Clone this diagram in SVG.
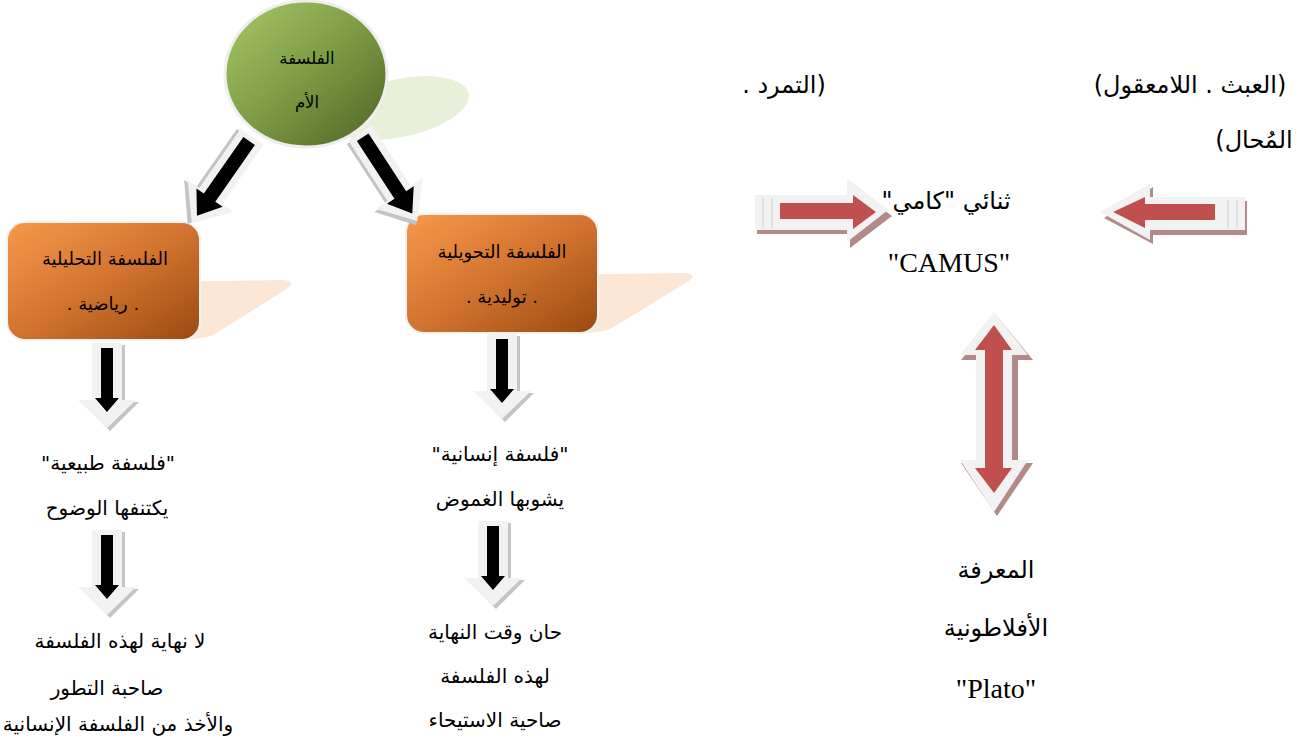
<svg xmlns="http://www.w3.org/2000/svg" width="1306" height="743" viewBox="0 0 1306 743">
  <style>
    .ar { font-family: "DejaVu Sans", "Liberation Sans", "Noto Sans", sans-serif; font-size: 20px; fill: #000; direction: rtl; unicode-bidi: embed; text-anchor: middle; }
    .box { font-size: 18px; }
    .root { font-size: 16.5px; }
    .big { font-size: 24px; }
    .lat { font-family: "Liberation Serif", "DejaVu Serif", serif; font-size: 28px; fill: #000; text-anchor: middle; }
    .halo { fill: #f2f2f2; }
    .haloShade { fill: #c4c4c4; }
    .blk { fill: #000; }
    .red { fill: #c0504d; }
    .redShade { fill: #b38a8a; }
  </style>
  <defs>
    <linearGradient id="gGreen" x1="0" y1="0" x2="1" y2="1">
      <stop offset="0" stop-color="#a9c96a"/>
      <stop offset="0.5" stop-color="#7d9b43"/>
      <stop offset="1" stop-color="#4c6326"/>
    </linearGradient>
    <linearGradient id="gOrange" x1="0" y1="0" x2="1" y2="1">
      <stop offset="0" stop-color="#f7994a"/>
      <stop offset="0.5" stop-color="#d27430"/>
      <stop offset="1" stop-color="#9a4a10"/>
    </linearGradient>
    <!-- hollow pointer pointing down, origin at top centre of the shaft -->
    <g id="downArrow">
      <polygon class="haloShade" points="-12,2 18,2 18,59 32,59 3,88 -26,59 -12,59"/>
      <polygon class="halo" points="-15,0 15,0 15,57 29,57 0,85 -29,57 -15,57"/>
      <polygon class="blk" points="-6,5 6,5 6,55 12,55 0,69 -12,55 -6,55"/>
    </g>
    <!-- same pointer laid along +x, for the slanted links -->
    <g id="diagArrow">
      <polygon class="haloShade" points="2,-11 74,-11 74,-25 108,3 74,31 74,17 2,17"/>
      <polygon class="halo" points="0,-14 72,-14 72,-28 105,0 72,28 72,14 0,14"/>
      <polygon class="blk" points="5,-7 74,-7 74,-16 96,0 74,16 74,7 5,7"/>
    </g>
  </defs>

  <rect width="1306" height="743" fill="#ffffff"/>

  <!-- root node -->
  <g id="node-root">
    <ellipse cx="400" cy="108" rx="70" ry="29" transform="rotate(-12 400 108)" fill="#e6eed6" opacity="0.9"/>
    <ellipse cx="306" cy="74" rx="81" ry="73" fill="url(#gGreen)" stroke="#eeeeee" stroke-width="3"/>
    <text class="ar root" x="307" y="64">الفلسفة</text>
    <text class="ar root" x="307" y="108">الأم</text>
  </g>

  <!-- analytic branch -->
  <g id="node-analytic">
    <path d="M150,282 L283,280 Q296,281 288,288 L215,334 Q205,340 160,340 Z" fill="#fce6d6"/>
    <rect x="7" y="222" width="193" height="118" rx="18" fill="url(#gOrange)" stroke="#f2f2f2" stroke-width="2"/>
    <text class="ar box" x="105" y="265">الفلسفة التحليلية</text>
    <text class="ar box" x="103" y="310">. رياضية .</text>
  </g>

  <!-- generative branch -->
  <g id="node-generative">
    <path d="M550,275 L684,273 Q698,274 689,281 L612,328 Q600,334 560,334 Z" fill="#fce6d6"/>
    <rect x="406" y="214" width="192" height="119" rx="18" fill="url(#gOrange)" stroke="#f2f2f2" stroke-width="2"/>
    <text class="ar box" x="502" y="258">الفلسفة التحويلية</text>
    <text class="ar box" x="502" y="303">. توليدية .</text>
  </g>

  <g id="node-natural">
    <text class="ar" x="108" y="470">"فلسفة طبيعية"</text>
    <text class="ar" x="107" y="515">يكتنفها الوضوح</text>
  </g>

  <g id="node-natural-end">
    <text class="ar" x="120" y="648">لا نهاية لهذه الفلسفة</text>
    <text class="ar" x="107" y="695">صاحبة التطور</text>
    <text class="ar" x="118" y="731">والأخذ من الفلسفة الإنسانية</text>
  </g>

  <g id="node-human">
    <text class="ar" x="500" y="461">"فلسفة إنسانية"</text>
    <text class="ar" x="500" y="506">يشوبها الغموض</text>
  </g>

  <g id="node-human-end">
    <text class="ar" x="495" y="639">حان وقت النهاية</text>
    <text class="ar" x="495" y="683">لهذه الفلسفة</text>
    <text class="ar" x="495" y="727">صاحية الاستيحاء</text>
  </g>

  <g id="node-absurd">
    <text class="ar big" x="1190" y="93">(العبث . اللامعقول)</text>
    <text class="ar big" x="784" y="93">(التمرد .</text>
    <text class="ar big" x="1254" y="148">المُحال)</text>
  </g>

  <g id="node-camus">
    <text class="ar big" x="946" y="209">ثنائي "كامي"</text>
    <text class="lat" x="949" y="272">"CAMUS"</text>
  </g>

  <g id="node-plato">
    <text class="ar big" x="996" y="578">المعرفة</text>
    <text class="ar big" x="996" y="636">الأفلاطونية</text>
    <text class="lat" x="996" y="698">"Plato"</text>
  </g>

  <!-- connectors -->
  <g id="connectors">
    <use href="#diagArrow" transform="translate(252,137) rotate(125)"/>
    <use href="#diagArrow" transform="translate(360,133) rotate(57)"/>
    <use href="#downArrow" transform="translate(107,343)"/>
    <use href="#downArrow" transform="translate(107,530)"/>
    <use href="#downArrow" transform="translate(502,334)"/>
    <use href="#downArrow" transform="translate(493,521)"/>

    <!-- red pointer into the Camus pair, from the left -->
    <g>
      <polygon class="redShade" points="757,200 850,200 850,184 892,216 850,248 850,234 757,234"/>
      <polygon class="halo" points="755,195 847,195 847,178 888,210 847,242 847,230 755,230"/>
      <line x1="763" y1="198" x2="763" y2="228" stroke="#e0e0e0" stroke-width="2"/>
      <line x1="772" y1="198" x2="772" y2="228" stroke="#e0e0e0" stroke-width="2"/>
      <polygon class="red" points="780,203 853,203 853,195 876,212 853,229 853,219 780,219"/>
    </g>
    <!-- red pointer into the Camus pair, from the right -->
    <g>
      <polygon class="redShade" points="1247,201 1153,201 1153,187 1104,218 1153,244 1153,235 1247,235"/>
      <polygon class="halo" points="1245,197 1150,197 1150,184 1100,212 1150,240 1150,230 1245,230"/>
      <line x1="1237" y1="200" x2="1237" y2="228" stroke="#e0e0e0" stroke-width="2"/>
      <line x1="1228" y1="200" x2="1228" y2="228" stroke="#e0e0e0" stroke-width="2"/>
      <polygon class="red" points="1215,204 1145,204 1145,197 1113,212 1145,228 1145,220 1215,220"/>
    </g>
    <!-- two-way red pointer between Camus and Plato -->
    <g>
      <polygon class="redShade" points="997,316 1033,360 1018,360 1018,463 1033,463 997,516 961,463 977,463 977,360 961,360"/>
      <polygon class="halo" points="994,312 1028,355 1012,355 1012,460 1028,460 994,512 960,460 976,460 976,355 960,355"/>
      <polygon class="red" points="994,325 1012,350 1003,350 1003,468 1012,468 994,493 975,468 985,468 985,350 975,350"/>
    </g>
  </g>
</svg>
